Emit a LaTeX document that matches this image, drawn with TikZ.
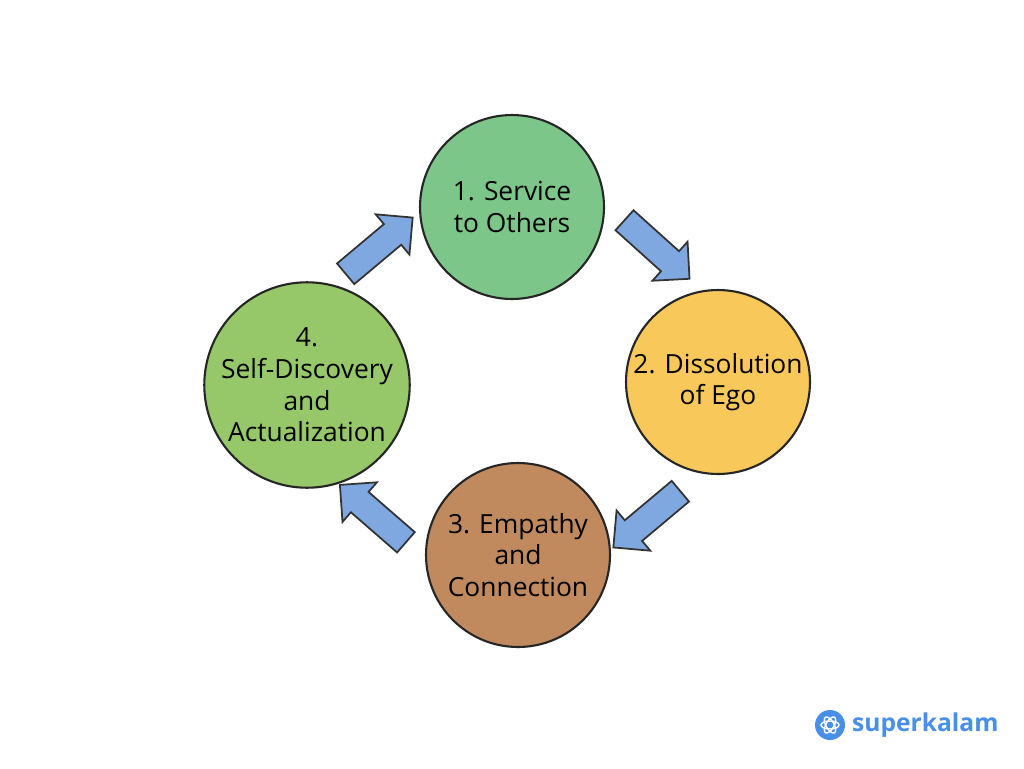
\documentclass[tikz,border=0pt]{standalone}
\usepackage{fontspec}
\setmainfont{Open Sans}
\usetikzlibrary{shapes.arrows}
\definecolor{gA}{HTML}{7DC68A}
\definecolor{yB}{HTML}{F9C85A}
\definecolor{bC}{HTML}{C08A5E}
\definecolor{gD}{HTML}{96C86A}
\definecolor{arr}{HTML}{7FA7E0}
\definecolor{logo}{HTML}{4A8FE7}
\begin{document}
\begin{tikzpicture}[x=0.02cm,y=-0.02cm,
 stage/.style={circle,draw=black!85,line width=1.2pt,minimum size=3.68cm,align=center,font=\fontsize{15}{18}\selectfont,inner sep=0pt},
 flow/.style={single arrow,draw=black!80,fill=arr,line width=1pt,minimum height=1.75cm,minimum width=1.05cm,single arrow head extend=0.1cm,inner sep=2.5pt}]
\useasboundingbox (0,0) rectangle (1024,768);
\fill[white] (0,0) rectangle (1024,768);
\node[stage,fill=gA] (s1) at (512,207) {1. Service\\to Others};
\node[stage,fill=yB] (s2) at (718,382) {2. Dissolution\\of Ego};
\node[stage,fill=bC] (s3) at (518,555) {3. Empathy\\and\\Connection};
\node[stage,fill=gD] (s4) at (307,385) {4.\\Self-Discovery\\and\\Actualization};
\node[flow,rotate=-42] (a1) at (652,245) {};
\node[flow,rotate=-140] (a2) at (652,515) {};
\node[flow,rotate=139] (a3) at (378,518) {};
\node[flow,rotate=40] (a4) at (374,250) {};
\node[circle,fill=logo,minimum size=0.6cm,inner sep=0pt] (lg) at (830,725) {};
\draw[white,line width=0.8pt] (lg.center) ellipse [x radius=9,y radius=4];
\draw[white,line width=0.8pt,rotate around={60:(lg.center)}] (lg.center) ellipse [x radius=9,y radius=4];
\draw[white,line width=0.8pt,rotate around={-60:(lg.center)}] (lg.center) ellipse [x radius=9,y radius=4];
\node[font=\fontsize{14}{17}\selectfont\bfseries,text=logo,anchor=west] (lt) at (846,725) {superkalam};
\end{tikzpicture}
\end{document}
